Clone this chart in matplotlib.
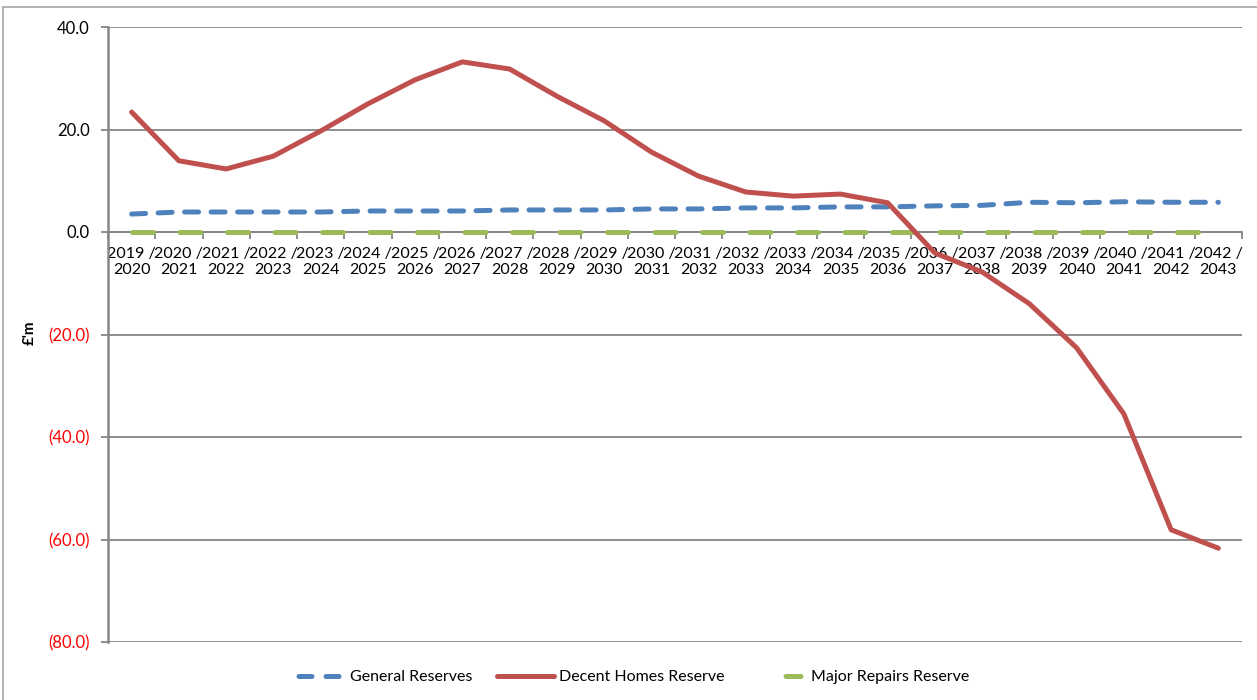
import matplotlib
matplotlib.use("Agg")
import matplotlib.pyplot as plt
from matplotlib.ticker import FuncFormatter, FixedLocator
from matplotlib.lines import Line2D
from matplotlib.patches import Rectangle

plt.rcParams['font.family'] = ['Lato', 'DejaVu Sans']

years = list(range(2019, 2043))
categories = [f"{y} /\n{y+1}" for y in years]

general_reserves = [3.5, 3.9, 3.9, 3.9, 3.9, 4.1, 4.1, 4.1, 4.3, 4.3, 4.3, 4.5,
                    4.5, 4.7, 4.7, 4.9, 4.9, 5.1, 5.2, 5.8, 5.7, 5.9, 5.8, 5.8]
decent_homes = [23.4, 13.9, 12.3, 14.8, 19.7, 25.0, 29.7, 33.2, 31.8, 26.5, 21.7, 15.6,
                10.9, 7.8, 7.0, 7.4, 5.7, -4.1, -7.8, -14.0, -22.6, -35.5, -58.1, -61.7]
major_repairs = [0.0] * 24

y_ticks = [40, 20, 0, -20, -40, -60, -80]

BLUE = '#4F81BD'
RED = '#C0504D'
GREEN = '#9BBB59'
GRID = '#868686'

fig = plt.figure(figsize=(12.57, 7.0), dpi=100)
W, H = 1257, 700
ax = fig.add_axes([108 / W, 1 - 642 / H, (1242 - 108) / W, (642 - 27) / H])

# outer chart border
fig.patches.append(Rectangle((3 / W, -0.01), 1.02, 1 - 7 / H + 0.01, transform=fig.transFigure,
                             fill=False, edgecolor='#A6A6A6', linewidth=1.2, zorder=0))

x = list(range(len(categories)))
lw = 3.6
ax.plot(x, major_repairs, color=GREEN, lw=lw, dashes=(4.2, 5.3), dash_capstyle='round',
        solid_capstyle='round', zorder=3)
ax.plot(x, general_reserves, color=BLUE, lw=lw, dashes=(2.8, 2.5), dash_capstyle='round',
        zorder=4)
ax.plot(x, decent_homes, color=RED, lw=lw, solid_capstyle='round', solid_joinstyle='round',
        zorder=5)

ax.set_xlim(-0.5, len(categories) - 0.5)
ax.set_ylim(-80, 40)
ax.set_yticks(y_ticks)
ax.yaxis.grid(True, color=GRID, linewidth=1.3)
ax.set_axisbelow(True)

def fmt(v, pos):
    if v < 0:
        return f"({abs(v):.1f})"
    return f"{v:.1f}"
ax.yaxis.set_major_formatter(FuncFormatter(fmt))
ax.tick_params(axis='y', length=5, width=1.3, color=GRID, labelsize=12, pad=8)

ax.set_xticks(x)
ax.set_xticklabels(categories)
ax.xaxis.set_minor_locator(FixedLocator([i - 0.5 for i in range(len(categories) + 1)]))
ax.tick_params(axis='x', which='major', length=0, pad=11, labelsize=11.5)
ax.tick_params(axis='x', which='minor', length=5, width=1.3, color=GRID)

fig.canvas.draw()
for lab in ax.get_yticklabels():
    if lab.get_text().startswith('('):
        lab.set_color('#FF0000')
for lab in ax.get_xticklabels():
    lab.set_linespacing(1.22)
    lab.set_fontsize(11.5)

for s in ['top', 'right']:
    ax.spines[s].set_visible(False)
ax.spines['bottom'].set_position(('data', 0))
ax.spines['bottom'].set_color(GRID)
ax.spines['bottom'].set_linewidth(1.3)
ax.spines['left'].set_color(GRID)
ax.spines['left'].set_linewidth(1.8)

fig.text(30 / W, 1 - 333 / H, "£'m", rotation=90, fontsize=11, fontweight='bold',
         ha='center', va='center')

handles = [
    Line2D([], [], color=BLUE, lw=lw, linestyle=(3.3, (2.6, 2.8)), dash_capstyle='round'),
    Line2D([], [], color=RED, lw=lw, solid_capstyle='round'),
    Line2D([], [], color=GREEN, lw=lw, linestyle=(4.5, (3.0, 9.0)), dash_capstyle='round'),
]
labels = ['General Reserves', 'Decent Homes Reserve', 'Major Repairs Reserve']
fig.legend(handles, labels, loc='center', bbox_to_anchor=(0.5, 1 - 677 / H), ncol=3,
           frameon=False, fontsize=11.5, handlelength=3.6, columnspacing=1.5,
           handletextpad=0.3)

fig.savefig('out.png', dpi=100)
